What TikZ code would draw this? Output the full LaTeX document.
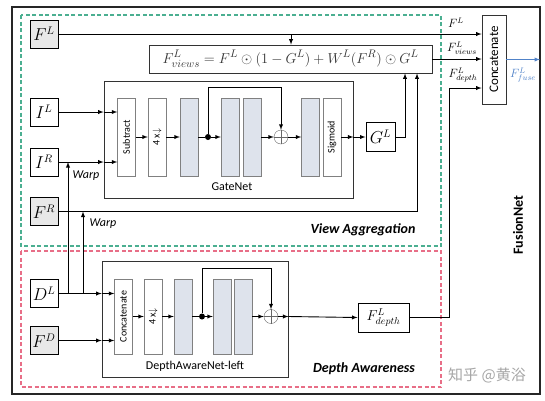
\documentclass[tikz,border=0pt]{standalone}
\usepackage{amsmath,amssymb}
\usepackage{fontspec}
\setmainfont{Carlito}
\newfontfamily\cjkfont{Noto Sans CJK SC}
\usepackage{tikz}
\usetikzlibrary{shapes}
\usetikzlibrary{arrows}
\definecolor{viewgreen}{RGB}{75,175,145}
\definecolor{depthred}{RGB}{232,110,135}
\definecolor{layergray}{RGB}{222,227,236}
\definecolor{fuseblue}{RGB}{80,130,200}

\begin{document}
\begin{tikzpicture}[x = 1pt, y = -1pt,
  inbox/.style = {draw, line width = 1pt, minimum width = 28pt, minimum height = 28pt, inner sep = 0, font = \fontsize{16}{18}\selectfont},
  featbox/.style = {inbox, fill = black!9},
  netbox/.style = {draw, black!80, line width = .8pt, inner sep = 0},
  layer/.style = {draw = black!50, minimum width = 18pt, minimum height = 78pt, inner sep = 0},
  convlayer/.style = {layer, fill = layergray},
  vtext/.style = {rotate = 90, font = \fontsize{10}{12}\selectfont},
  flow/.style = {-latex, line width = .9pt},
  link/.style = {line width = .9pt},
  oplus/.style = {draw = black!60, circle, minimum size = 14pt, inner sep = 0},
  junction/.style = {fill, circle, minimum size = 6pt, inner sep = 0},
  region/.style = {dash pattern = on 4pt off 2.5pt, line width = 1.1pt}]
 \useasboundingbox (0, 0) rectangle (545, 400);
 \draw[line width = 1.3pt, black!85] (12, 7) rectangle (540, 394);
 \draw[region, viewgreen] (21, 15) rectangle (441, 246);
 \draw[region, depthred] (21, 251) rectangle (441, 387);

 \node[featbox] (FL) at (44, 34) {$F^L$};
 \node[inbox] (IL) at (44, 112) {$I^L$};
 \node[inbox] (IR) at (44, 162) {$I^R$};
 \node[featbox] (FR) at (44, 211.5) {$F^R$};
 \node[inbox] (DL) at (44, 293.5) {$D^L$};
 \node[featbox] (FD) at (44, 340.5) {$F^D$};

 \node[netbox, minimum width = 283pt, minimum height = 28pt, font = \fontsize{15}{17}\selectfont] (formula) at (290.5, 59) {$F^L_{views} = F^L \odot (1 - G^L) + W^L(F^R) \odot G^L$};
 \node[netbox, minimum width = 24pt, minimum height = 89pt] (concat) at (494, 59.5) {};
 \node[rotate = 90, font = \fontsize{13}{15}\selectfont] at (concat) {Concatenate};

 \node[netbox, minimum width = 249pt, minimum height = 117pt] (gate) at (228.5, 139.5) {};
 \node[font = \fontsize{12}{14}\selectfont] at (232, 187) {GateNet};
 \node[layer] (sub) at (126.5, 137) {};
 \node[vtext] at (sub) {Subtract};
 \node[layer] (down) at (157, 137) {};
 \node[vtext] at (down) {4 x$\downarrow$};
 \node[convlayer] (g1) at (189, 137) {};
 \node[convlayer] (g2) at (230, 137) {};
 \node[convlayer] (g3) at (252, 137) {};
 \node[oplus] (op) at (281, 137) {};
 \node[convlayer] (g4) at (310.5, 137) {};
 \node[layer] (sig) at (332, 137) {};
 \node[vtext] at (sig) {Sigmoid};
 \node[junction] (dot) at (208, 137) {};
 \node[inbox, minimum width = 29pt, minimum height = 29pt] (GL) at (380.5, 137) {$G^L$};

 \node[netbox, minimum width = 186pt, minimum height = 116pt] (depth) at (195, 319) {};
 \node[font = \fontsize{12}{14}\selectfont] at (195, 366) {DepthAwareNet-left};
 \node[layer, minimum height = 75pt] (cat) at (123.5, 316.5) {};
 \node[vtext] at (cat) {Concatenate};
 \node[layer, minimum height = 75pt] (down2) at (153, 316.5) {};
 \node[vtext] at (down2) {4 x$\downarrow$};
 \node[convlayer, minimum height = 75pt] (h1) at (183, 316.5) {};
 \node[convlayer, minimum height = 75pt] (h2) at (222, 316.5) {};
 \node[convlayer, minimum height = 75pt] (h3) at (243, 316.5) {};
 \node[oplus] (op2) at (271, 316.5) {};
 \node[junction] (dot2) at (202, 316.5) {};
 \node[inbox, minimum width = 51pt, minimum height = 29pt, font = \fontsize{14}{15}\selectfont] (Fdepth) at (383.5, 317.5) {$F^L_{depth}$};

 \foreach \o in {op, op2}
  \draw[black!60] (\o.north) -- (\o.south) (\o.west) -- (\o.east);

 \coordinate (warpa) at (68, 0);
 \coordinate (warpb) at (83, 0);
 \coordinate (flx) at (291, 0);
 \coordinate (glx) at (405, 0);
 \coordinate (frx) at (417, 0);
 \coordinate (dep) at (449, 88);
 \coordinate (out) at (540, 59.5);

 \draw[flow] (FL.east) -- (FL.east -| concat.west);
 \draw[flow] (FL.east -| flx) -- (formula.north -| flx);
 \draw[flow] (formula.east) -- (formula.east -| concat.west);
 \draw[flow] (Fdepth.east) -| (dep) -- (dep -| concat.west);
 \draw[flow, fuseblue] (concat.east) -- (out);

 \draw[flow] (IL.east) -- (IL.east -| gate.west);
 \draw[flow] (IL.east -| gate.west) -- (IL.east -| sub.west);
 \draw[flow] (IR.east) -- (IR.east -| gate.west);
 \draw[flow] (IR.east -| gate.west) -- (IR.east -| sub.west);
 \draw[flow] (FR.east) -| (formula.south -| frx);
 \draw[flow] (DL.east -| warpa) -- (IR.east -| warpa);
 \draw[flow] (DL.east -| warpb) -- (FR.east -| warpb);
 \node[font = \fontsize{12}{14}\selectfont\itshape] at (86, 176) {Warp};
 \node[font = \fontsize{12}{14}\selectfont\itshape] at (103, 224) {Warp};

 \draw[flow] (sub) -- (down);
 \draw[flow] (down) -- (g1);
 \draw[link] (g1.east) -- (dot);
 \draw[flow] (dot) -- (g2.west);
 \draw[flow] (dot) -- ++(0, -50) -| (op.north);
 \draw[flow] (g3.east) -- (op.west);
 \draw[flow] (op.east) -- (g4.west);
 \draw[flow] (sig.east) -- (sig.east -| gate.east);
 \draw[flow] (sig.east -| gate.east) -- (GL.west);
 \draw[flow] (GL.east) -| (formula.south -| glx);

 \draw[flow] (DL.east) -- (DL.east -| depth.west);
 \draw[flow] (DL.east -| depth.west) -- (DL.east -| cat.west);
 \draw[flow] (FD.east) -- (FD.east -| depth.west);
 \draw[flow] (FD.east -| depth.west) -- (FD.east -| cat.west);
 \draw[flow] (cat) -- (down2);
 \draw[flow] (down2) -- (h1);
 \draw[link] (h1.east) -- (dot2);
 \draw[flow] (dot2) -- (h2.west);
 \draw[flow] (dot2) -- ++(0, -48.5) -| (op2.north);
 \draw[flow] (h3.east) -- (op2.west);
 \draw[flow] (op2.east) -- (op2.east -| depth.east);
 \draw[flow] (op2.east -| depth.east) -- (Fdepth.west);

 \node[font = \fontsize{12}{13}\selectfont] at (456, 23) {$F^L$};
 \node[font = \fontsize{12}{13}\selectfont] at (462, 48) {$F^L_{views}$};
 \node[font = \fontsize{12}{13}\selectfont] at (463, 75) {$F^L_{depth}$};
 \node[fuseblue, font = \fontsize{12}{13}\selectfont] at (523, 75) {$F^L_{fuse}$};

 \node[font = \fontsize{14}{16}\selectfont\bfseries\itshape] at (363, 230) {View Aggregation};
 \node[font = \fontsize{14}{16}\selectfont\bfseries\itshape] at (364, 369) {Depth Awareness};
 \node[rotate = 90, font = \fontsize{14}{16}\selectfont\bfseries] at (518, 225) {FusionNet};
 \node[black!35, font = \cjkfont\fontsize{15}{17}\selectfont] at (487, 375) {知乎 @黄浴};
\end{tikzpicture}
\end{document}
